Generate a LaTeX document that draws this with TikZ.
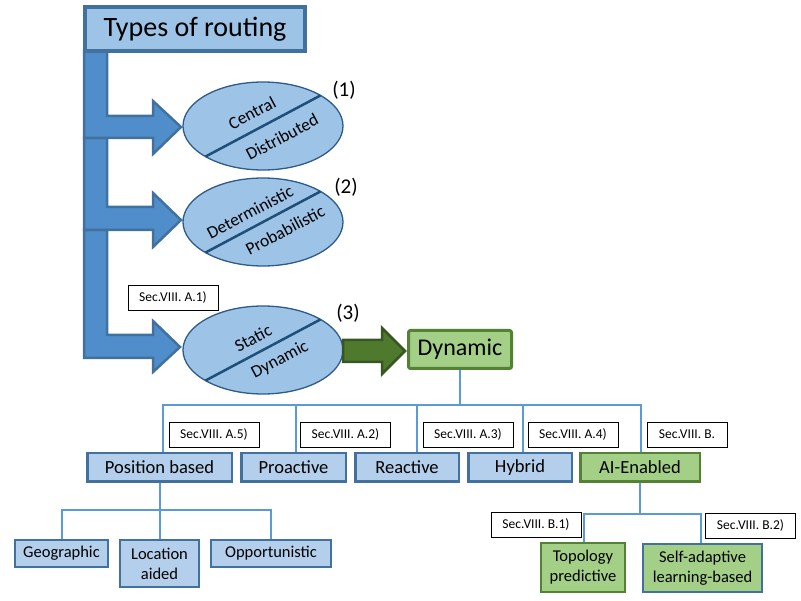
\documentclass[tikz,border=0pt]{standalone}
\usepackage{fontspec}
\setmainfont{Carlito}
\usetikzlibrary{shapes.geometric,calc}
\definecolor{bfill}{HTML}{9DC3E6}
\definecolor{bbox}{HTML}{B4CFEB}
\definecolor{bdark}{HTML}{41719C}
\definecolor{arrowfill}{HTML}{4F8DCB}
\definecolor{lineblue}{HTML}{5B9BD5}
\definecolor{gfill}{HTML}{A3CF86}
\definecolor{gdark}{HTML}{548235}
\definecolor{garrow}{HTML}{4F7A2E}
\definecolor{garrowb}{HTML}{375623}
\definecolor{ediag}{HTML}{1F4E79}
\definecolor{eline}{HTML}{2E5B8A}
\newcommand{\fs}[1]{\fontsize{#1}{#1}\selectfont}
\begin{document}
\begin{tikzpicture}[x=1pt,y=-1pt,
  titlebox/.style={draw=bdark,line width=3.5pt,fill=bfill,minimum width=220pt,minimum height=44pt,inner sep=0pt,font=\fs{28}},
  ell/.style={ellipse,draw=eline,line width=1.3pt,fill=bfill,minimum width=160pt,minimum height=88pt,inner sep=0pt,outer sep=0pt},
  etext/.style={rotate=28,inner sep=0pt,font=\fs{17.5}},
  elabel/.style={inner sep=0pt,font=\fs{21}},
  blubox/.style={draw=bdark,line width=2.5pt,fill=bbox,inner sep=0pt,font=\fs{18.5},align=center},
  grnbox/.style={draw=gdark,line width=2.5pt,fill=gfill,inner sep=0pt,font=\fs{18.5},align=center},
  secbox/.style={draw=black,line width=0.8pt,fill=white,minimum width=90pt,minimum height=25pt,inner sep=0pt,font=\fs{13.5}},
  conn/.style={draw=lineblue,line width=2pt},
  barrow/.style={fill=arrowfill,draw=bdark,line width=2.5pt,line join=miter},
  garr/.style={fill=garrow,draw=garrowb,line width=2.5pt,line join=miter}
]
\useasboundingbox (0,0) rectangle (801,601);

% bent block arrows
\draw[barrow] (84,230) -- (107,230) -- (107,335) -- (153,335) -- (153,321) -- (180,347) -- (153,372) -- (153,358) -- (84,358) -- cycle;
\draw[barrow] (84,138) -- (107,138) -- (107,207) -- (153,207) -- (153,193) -- (181,220) -- (153,247) -- (153,230) -- (84,230) -- cycle;
\draw[barrow] (84,50) -- (107,50) -- (107,116) -- (153,116) -- (153,101) -- (181,127) -- (153,154) -- (153,138) -- (84,138) -- cycle;

\node[titlebox] (title) at (195,29) {Types of routing};

% ellipses
\node[ell] (e1) at (263,126) {};
\node[ell] (e2) at (263,222) {};
\node[ell] (e3) at (263,350) {};
\foreach \e in {e1,e2,e3}{
  \draw[draw=ediag,line width=2.5pt] (\e.208) -- (\e.28);
}
\node[etext] (c1) at ($(e1.center)+(-11,-13)$) {Central};
\node[etext] (d1) at ($(e1.center)+(19,11)$) {Distributed};
\node[etext] (c2) at ($(e2.center)+(-13,-10)$) {Deterministic};
\node[etext] (d2) at ($(e2.center)+(22,8)$) {Probabilistic};
\node[etext] (c3) at ($(e3.center)+(-10,-12)$) {Static};
\node[etext] (d3) at ($(e3.center)+(17,10)$) {Dynamic};

\node[elabel] (l1) at (344,90) {(1)};
\node[elabel] (l2) at (346,187) {(2)};
\node[elabel] (l3) at (348,313) {(3)};

\node[secbox] (sa1) at (173,297.5) {Sec.VIII. A.1)};

% green block arrow
\draw[garr] (343,340) -- (382,340) -- (382,328) -- (405,351) -- (382,374) -- (382,362) -- (343,362) -- cycle;

\node[grnbox,line width=3pt,rounded corners=2pt,minimum width=103pt,minimum height=38pt,font=\fs{24}] (dyn) at (460,349.5) {Dynamic};

% second level
\node[blubox,minimum width=144.5pt,minimum height=28.5pt] (posb) at (159.5,467.5) {Position based};
\node[blubox,minimum width=104.5pt,minimum height=28.5pt] (proa) at (293.5,467.5) {Proactive};
\node[blubox,minimum width=103.5pt,minimum height=28.5pt] (reac) at (407,467.5) {Reactive};
\node[blubox,minimum width=103.5pt,minimum height=28.5pt] (hybr) at (520,467.5) {Hybrid};
\node[grnbox,minimum width=119.5pt,minimum height=28.5pt] (aien) at (640,467.5) {AI-Enabled};

\coordinate (bus) at (0,405);
\draw[conn] (dyn.south) -- (dyn.south |- bus);
\draw[conn] ([xshift=3.5pt]posb.north) -- ([xshift=3.5pt]posb.north |- bus) -- ([xshift=1pt]aien.north |- bus) -- ([xshift=1pt]aien.north);
\draw[conn] ([xshift=2.5pt]proa.north) -- ([xshift=2.5pt]proa.north |- bus);
\draw[conn] ([xshift=10pt]reac.north) -- ([xshift=10pt]reac.north |- bus);
\draw[conn] ([xshift=3pt]hybr.north) -- ([xshift=3pt]hybr.north |- bus);

\node[secbox] (sa5) at (214,434.5) {Sec.VIII. A.5)};
\node[secbox] (sa2) at (345.5,434.5) {Sec.VIII. A.2)};
\node[secbox] (sa3) at (468,434.5) {Sec.VIII. A.3)};
\node[secbox] (sa4) at (573,434.5) {Sec.VIII. A.4)};
\node[secbox,minimum width=80pt] (sb) at (687,434.5) {Sec.VIII. B.};

% position based children
\node[blubox,minimum width=93pt,minimum height=27pt,font=\fs{16.5}] (geo) at (61.5,553.5) {Geographic};
\node[blubox,minimum width=79pt,minimum height=47pt,font=\fs{16.5},execute at begin node={\setlength{\baselineskip}{20pt}}] (loc) at (159.5,563.5) {Location\\aided};
\node[blubox,minimum width=120pt,minimum height=27pt,font=\fs{16.5}] (opp) at (271,553.5) {Opportunistic};
\coordinate (bus2) at (0,510);
\draw[conn] (posb.south) -- (loc.north);
\draw[conn] (geo.north) -- (geo.north |- bus2) -- (opp.north |- bus2) -- (opp.north);

% AI children
\node[grnbox,minimum width=84pt,minimum height=49pt,font=\fs{16.5},execute at begin node={\setlength{\baselineskip}{20pt}}] (topo) at (583,567.5) {Topology\\predictive};
\node[grnbox,draw=bdark,minimum width=119pt,minimum height=48pt,font=\fs{16.5},execute at begin node={\setlength{\baselineskip}{20pt}}] (self) at (702.5,568) {Self-adaptive\\learning-based};
\coordinate (bus3) at (0,514);
\draw[conn] (aien.south) -- (aien.south |- bus3);
\draw[conn] ([xshift=1pt]topo.north) -- ([xshift=1pt]topo.north |- bus3) -- ([xshift=-1.5pt]self.north |- bus3) -- ([xshift=-1.5pt]self.north);

\node[secbox] (sb1) at (536,524.5) {Sec.VIII. B.1)};
\node[secbox] (sb2) at (750.5,525.5) {Sec.VIII. B.2)};
\end{tikzpicture}
\end{document}
